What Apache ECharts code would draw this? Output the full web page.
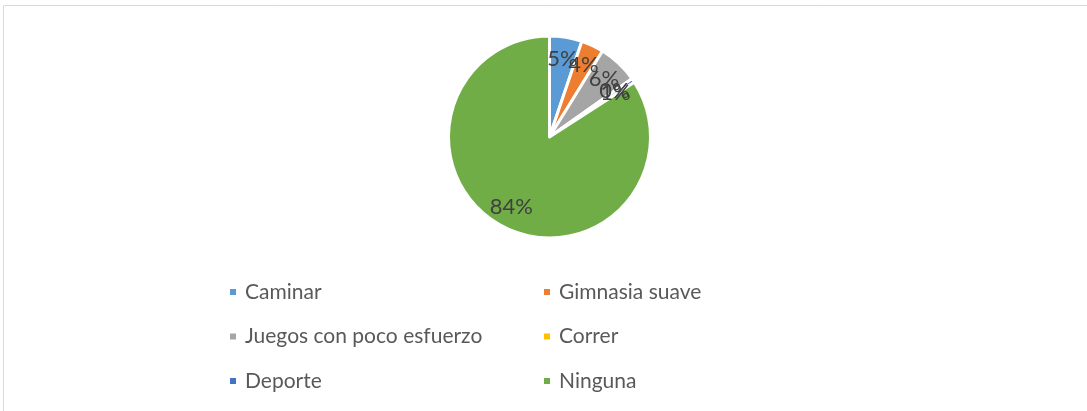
<!DOCTYPE html>
<html>
<head>
<meta charset="utf-8">
<script src="https://cdn.jsdelivr.net/npm/echarts@6/dist/echarts.min.js"></script>
<style>
    html, body { margin: 0; padding: 0; background: #fff; }
    #chart { width: 1087px; height: 411px; }
</style>
</head>
<body>
<div id="chart"></div>
<script>
    // categories and shares (percent)
    const categories = ['Caminar', 'Gimnasia suave', 'Juegos con poco esfuerzo', 'Correr', 'Deporte', 'Ninguna']
    const values = [5.2, 3.6, 6.4, 0, 0.7, 84.1]
    const colors = ['#5B9BD5', '#ED7D31', '#A5A5A5', '#FFC000', '#4472C4', '#70AD47']

    const leftColumn = ['Caminar', 'Juegos con poco esfuerzo', 'Deporte']
    const rightColumn = ['Gimnasia suave', 'Correr', 'Ninguna']

    const fontFamily = 'Lato, "Noto Sans", sans-serif'
    const center = [549.5, 137]

    const pieData = categories.map((name, i) => ({
        name: name,
        value: values[i],
        itemStyle: { color: colors[i] }
    }))

    const legendBase = {
        orient: 'vertical',
        icon: 'rect',
        itemWidth: 8,
        itemHeight: 8,
        itemGap: 20.5,
        top: 275,
        selectedMode: false,
        textStyle: {
            color: '#595959',
            fontSize: 21,
            fontFamily: fontFamily,
            lineHeight: 24,
            padding: [0, 0, 0, 3]
        }
    }

    const chart = echarts.init(document.getElementById('chart'), null, { renderer: 'canvas' })
    chart.setOption({
        animation: false,
        color: colors,
        graphic: [{
            type: 'rect',
            shape: { x: 3.5, y: 5.5, width: 1200, height: 500 },
            style: { fill: 'none', stroke: '#D9D9D9', lineWidth: 1 },
            silent: true
        }],
        legend: [
            Object.assign({}, legendBase, { left: 223, data: leftColumn }),
            Object.assign({}, legendBase, { left: 537, data: rightColumn })
        ],
        series: [{
            // the visible pie
            type: 'pie',
            center: center,
            radius: [0, 101],
            startAngle: 90,
            clockwise: true,
            percentPrecision: 0,
            label: { show: false },
            labelLine: { show: false },
            itemStyle: { borderColor: '#fff', borderWidth: 3 },
            emphasis: { disabled: true },
            data: pieData
        }, {
            // transparent ring used only to place the labels further out
            type: 'pie',
            center: center,
            radius: [52, 101],
            startAngle: 90,
            clockwise: true,
            silent: true,
            avoidLabelOverlap: false,
            percentPrecision: 0,
            itemStyle: { color: 'rgba(0,0,0,0)', borderWidth: 0 },
            label: {
                show: true,
                position: 'inside',
                formatter: '{d}%',
                color: '#404040',
                fontSize: 22,
                fontFamily: fontFamily
            },
            labelLine: { show: false },
            labelLayout: { hideOverlap: false },
            emphasis: { disabled: true },
            data: categories.map((name, i) => ({ name: name, value: values[i] }))
        }]
    })
</script>
</body>
</html>
